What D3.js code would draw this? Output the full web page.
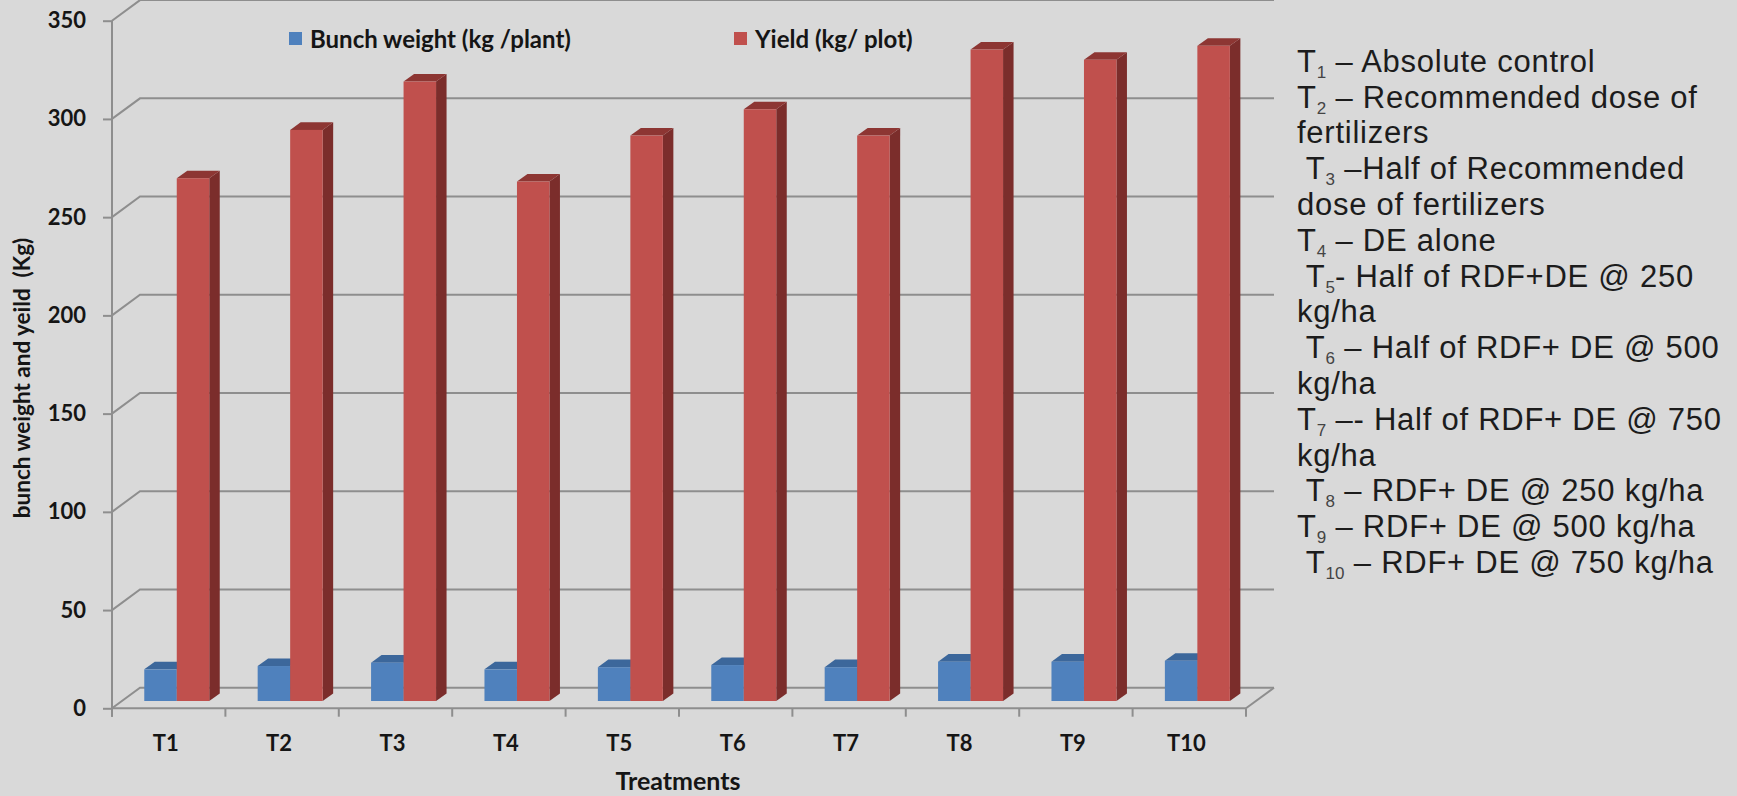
<!DOCTYPE html>
<html>
<head>
<meta charset="utf-8">
<script src="https://cdn.jsdelivr.net/npm/d3@7"></script>
<style>
  html, body { margin: 0; padding: 0; background: #d9d9d9; }
  svg { display: block; }
  .note { white-space: pre; }
</style>
</head>
<body>
<svg id="chart" width="1737" height="796"></svg>
<script>
// ---- data ----
const treatments = ["T1", "T2", "T3", "T4", "T5", "T6", "T7", "T8", "T9", "T10"];
const bunchWeight = [16.1, 17.8, 19.5, 16.1, 17.2, 18.3, 17.2, 20.0, 20.0, 20.5];
const yieldPerPlot = [266.1, 290.7, 315.3, 264.4, 287.8, 301.2, 287.8, 331.6, 326.4, 333.5];
const seriesNames = ["Bunch weight (kg /plant)", "Yield (kg/ plot)"];
const yTicks = [0, 50, 100, 150, 200, 250, 300, 350];
const xTitle = "Treatments";
const yTitle = "bunch weight and yeild  (Kg)";

// treatment key: lead text, subscript, trailing text
const treatmentNotes = [
  ["T", "1", " – Absolute control"],
  ["T", "2", " – Recommended dose of"],
  ["fertilizers", "", ""],
  [" T", "3", " –Half of Recommended"],
  ["dose of fertilizers", "", ""],
  ["T", "4", " – DE alone"],
  [" T", "5", "- Half of RDF+DE @ 250"],
  ["kg/ha", "", ""],
  [" T", "6", " – Half of RDF+ DE @ 500"],
  ["kg/ha", "", ""],
  ["T", "7", " –- Half of RDF+ DE @ 750"],
  ["kg/ha", "", ""],
  [" T", "8", " – RDF+ DE @ 250 kg/ha"],
  ["T", "9", " – RDF+ DE @ 500 kg/ha"],
  [" T", "10", " – RDF+ DE @ 750 kg/ha"]
];

// ---- layout ----
const W = 1737, H = 796;
const plotLeft = 112, plotRight = 1246;
const floorY = 708.3, topY = 20.7;
const wall = { dx: 28, dy: -20.6 };      // front plane -> back wall
const barFront = { dx: 10, dy: -7.3 };   // front plane -> front face of bars
const barDepth = { dx: 10.5, dy: -7.6 }; // thickness of a bar in depth

const palette = [
  { front: "#4f81bd", top: "#3c679b", side: "#365d8c" },
  { front: "#c0504d", top: "#8d3633", side: "#7b2d2b" }
];
const gridColor = "#8e8e8e";
const textColor = "#151515";
const labelFont = "Lato, 'Open Sans', sans-serif";

const svg = d3.select("#chart");
svg.append("rect").attr("width", W).attr("height", H).attr("fill", "#d9d9d9");

const y = d3.scaleLinear().domain([0, 350]).range([floorY, topY]);
const x = d3.scaleBand().domain(treatments).range([plotLeft, plotRight]);
const xs = d3.scaleBand().domain([0, 1]).range([0, x.bandwidth()])
  .paddingInner(0).paddingOuter(0.745).align(0.46);

// ---- walls & gridlines ----
const grid = svg.append("g").attr("fill", "none").attr("stroke", gridColor).attr("stroke-width", 2);
grid.selectAll("polyline.grid").data(yTicks).join("polyline")
  .attr("class", "grid")
  .attr("points", d => [
    [plotLeft, y(d)],
    [plotLeft + wall.dx, y(d) + wall.dy],
    [plotRight + wall.dx, y(d) + wall.dy]
  ].map(p => p.join(",")).join(" "));

// floor right edge
grid.append("line")
  .attr("x1", plotRight).attr("y1", floorY)
  .attr("x2", plotRight + wall.dx).attr("y2", floorY + wall.dy);

// ---- bars ----
const seriesData = [bunchWeight, yieldPerPlot];
const bars = [];
treatments.forEach((t, i) => {
  seriesData.forEach((vals, s) => bars.push({ t, s, v: vals[i] }));
});

const pts = arr => arr.map(p => p.join(",")).join(" ");
const barG = svg.append("g");
const groups = barG.selectAll("g.bar").data(bars).join("g").attr("class", "bar");

function barBox(d) {
  const x0 = x(d.t) + xs(d.s) + barFront.dx;
  const x1 = x0 + xs.bandwidth();
  const yb = y(0) + barFront.dy;
  const yt = y(d.v) + barFront.dy;
  return { x0, x1, yb, yt };
}

// side face
groups.append("polygon")
  .attr("fill", d => palette[d.s].side)
  .attr("points", d => {
    const b = barBox(d);
    return pts([[b.x1, b.yb], [b.x1, b.yt], [b.x1 + barDepth.dx, b.yt + barDepth.dy], [b.x1 + barDepth.dx, b.yb + barDepth.dy]]);
  });
// top face
groups.append("polygon")
  .attr("fill", d => palette[d.s].top)
  .attr("points", d => {
    const b = barBox(d);
    return pts([[b.x0, b.yt], [b.x1, b.yt], [b.x1 + barDepth.dx, b.yt + barDepth.dy], [b.x0 + barDepth.dx, b.yt + barDepth.dy]]);
  });
// front face
groups.append("rect")
  .attr("fill", d => palette[d.s].front)
  .attr("x", d => barBox(d).x0)
  .attr("y", d => barBox(d).yt)
  .attr("width", xs.bandwidth())
  .attr("height", d => barBox(d).yb - barBox(d).yt);

// ---- axes ----
const yAxis = svg.append("g")
  .attr("transform", `translate(${plotLeft},0)`)
  .call(d3.axisLeft(y).tickValues(yTicks).tickSize(9).tickSizeOuter(0).tickPadding(17));
yAxis.select(".domain").remove();
yAxis.selectAll(".tick line").attr("stroke", gridColor).attr("stroke-width", 2);
yAxis.selectAll(".tick text")
  .attr("fill", textColor)
  .style("font-family", labelFont).style("font-weight", "bold").style("font-size", "22px");
yAxis.append("line")
  .attr("x1", 0).attr("x2", 0)
  .attr("y1", topY).attr("y2", floorY + 8.4)
  .attr("stroke", gridColor).attr("stroke-width", 2);

const xAxis = svg.append("g")
  .attr("transform", `translate(0,${floorY})`)
  .call(d3.axisBottom(x).tickSize(0).tickPadding(27));
xAxis.select(".domain").remove();
xAxis.selectAll(".tick text")
  .attr("fill", textColor)
  .attr("dx", -3)
  .style("font-family", labelFont).style("font-weight", "bold").style("font-size", "22px");
xAxis.append("line")
  .attr("x1", plotLeft).attr("x2", plotRight).attr("y1", 0).attr("y2", 0)
  .attr("stroke", gridColor).attr("stroke-width", 2);
xAxis.selectAll("line.bound")
  .data(treatments.map(t => x(t)).concat([plotRight]))
  .join("line").attr("class", "bound")
  .attr("x1", d => d).attr("x2", d => d).attr("y1", 0).attr("y2", 8.4)
  .attr("stroke", gridColor).attr("stroke-width", 2);

svg.append("text")
  .attr("x", 678).attr("y", 790)
  .attr("text-anchor", "middle")
  .attr("fill", textColor)
  .style("font-family", labelFont).style("font-weight", "bold").style("font-size", "25px")
  .text(xTitle);

svg.append("text")
  .attr("transform", "translate(21,378) rotate(-90)")
  .attr("text-anchor", "middle")
  .attr("dominant-baseline", "central")
  .attr("fill", textColor)
  .style("white-space", "pre")
  .style("font-family", labelFont).style("font-weight", "bold").style("font-size", "22.5px")
  .text(yTitle);

// ---- series legend ----
const legendPos = [{ x: 289, y: 38.5 }, { x: 734, y: 38.5 }];
const legend = svg.append("g").selectAll("g").data(seriesNames).join("g")
  .attr("transform", (d, i) => `translate(${legendPos[i].x},${legendPos[i].y})`);
legend.append("rect")
  .attr("x", 0).attr("y", -6.5).attr("width", 13).attr("height", 13)
  .attr("fill", (d, i) => palette[i].front);
legend.append("text")
  .attr("x", 21).attr("y", 0)
  .attr("dominant-baseline", "central")
  .attr("fill", textColor)
  .style("font-family", labelFont).style("font-weight", "bold").style("font-size", "24px")
  .text(d => d);

// ---- treatment key ----
const notes = svg.append("g")
  .style("font-family", "'Liberation Sans', Arial, sans-serif")
  .style("font-size", "31px")
  .style("letter-spacing", "0.75px")
  .attr("fill", "#1c1c1c");
const noteLine = notes.selectAll("text").data(treatmentNotes).join("text")
  .attr("class", "note")
  .attr("x", 1297)
  .attr("y", (d, i) => 71.7 + i * 35.8);
noteLine.append("tspan").text(d => d[0]);
noteLine.filter(d => d[1]).append("tspan")
  .attr("dy", 6).style("font-size", "17px").style("letter-spacing", "0px")
  .attr("fill", "#444").text(d => d[1]);
noteLine.filter(d => d[2]).append("tspan")
  .attr("dy", -6).text(d => d[2]);
</script>
</body>
</html>
